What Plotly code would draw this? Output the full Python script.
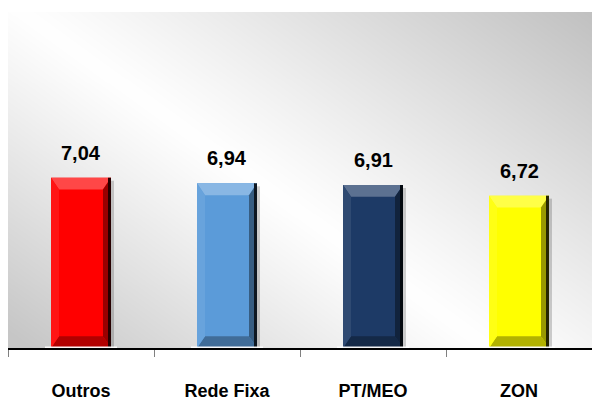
import base64, zlib, struct
import numpy as np
import plotly.graph_objects as go

categories = ["Outros", "Rede Fixa", "PT/MEO", "ZON"]
values = [7.04, 6.94, 6.91, 6.72]
colors = ["#ff0000", "#5b9bd9", "#1d3a66", "#ffff00"]
y_range = [4, 10]

W, H = 592, 401
ML, MR, MT, MB = 8, 0, 12, 48
PW, PH = W - ML - MR, H - MT - MB
FONT = "Liberation Sans, Arial, sans-serif"

# ---- background gradient image (decoration) ----
xs = np.arange(PW)[None, :].astype(float)
ys = np.arange(PH)[:, None].astype(float)
d = (xs - 40) * 0.588 + (ys - 20) * (-0.808)
g = np.where(d > 0, 255 - 63 * np.clip(d / 340, 0, 1) ** 1.1, 255 - 57 * np.clip(-d / 272, 0, 1) ** 1.1)
g = np.clip(g, 0, 255).astype(np.uint8)

def png_gray(arr):
    h, w = arr.shape
    raw = b"".join(b"\x00" + arr[i].tobytes() for i in range(h))
    def chunk(t, data):
        c = struct.pack(">I", len(data)) + t + data
        return c + struct.pack(">I", zlib.crc32(t + data) & 0xffffffff)
    return (b"\x89PNG\r\n\x1a\n" + chunk(b"IHDR", struct.pack(">IIBBBBB", w, h, 8, 0, 0, 0, 0))
            + chunk(b"IDAT", zlib.compress(raw, 9)) + chunk(b"IEND", b""))

bg_src = "data:image/png;base64," + base64.b64encode(png_gray(g)).decode()

def mix(c, t, f):
    c = c.lstrip("#"); t = t.lstrip("#")
    a = [int(c[i:i+2], 16) for i in (0, 2, 4)]
    b = [int(t[i:i+2], 16) for i in (0, 2, 4)]
    r = [round(a[i] + (b[i] - a[i]) * f) for i in range(3)]
    return "rgb(%d,%d,%d)" % tuple(r)

cat_px = PW / len(categories)
bar_w = 60 / cat_px
fig = go.Figure()
fig.add_trace(go.Bar(
    x=categories, y=values, width=bar_w,
    marker=dict(color=colors, line=dict(width=0)),
    hoverinfo="skip",
))

shapes = []
annotations = []
bx = 8 / cat_px
yunit = (y_range[1] - y_range[0]) / PH
byt = 12 * yunit
base = y_range[0]
for i, (v, c) in enumerate(zip(values, colors)):
    x0, x1 = i - bar_w / 2, i + bar_w / 2
    # soft shadow
    shapes.append(dict(type="rect", xref="x", yref="y", x0=x1 - 1 / cat_px, x1=x1 + 3 / cat_px,
                       y0=base, y1=v - 3 * yunit, fillcolor="rgba(0,0,0,0.18)", line_width=0, layer="below"))
    # top bevel
    shapes.append(dict(type="path", xref="x", yref="y", layer="above", line_width=0,
                       fillcolor=mix(c, "#ffffff", 0.28),
                       path=f"M{x0},{v} L{x1},{v} L{x1-bx},{v-byt} L{x0+bx},{v-byt} Z"))
    # bottom bevel
    shapes.append(dict(type="path", xref="x", yref="y", layer="above", line_width=0,
                       fillcolor=mix(c, "#000000", 0.3),
                       path=f"M{x0},{base} L{x1},{base} L{x1-bx},{base+byt} L{x0+bx},{base+byt} Z"))
    # left bevel
    shapes.append(dict(type="path", xref="x", yref="y", layer="above", line_width=0,
                       fillcolor=mix(c, "#ffffff", 0.08),
                       path=f"M{x0},{base} L{x0},{v} L{x0+bx},{v-byt} L{x0+bx},{base+byt} Z"))
    # right bevel
    shapes.append(dict(type="path", xref="x", yref="y", layer="above", line_width=0,
                       fillcolor=mix(c, "#000000", 0.4),
                       path=f"M{x1},{base} L{x1},{v} L{x1-bx},{v-byt} L{x1-bx},{base+byt} Z"))
    shapes.append(dict(type="line", xref="x", yref="y", layer="above",
                       x0=x1 - 1.5 / cat_px, x1=x1 - 1.5 / cat_px, y0=base, y1=v,
                       line=dict(color=mix(c, "#000000", 0.85), width=3)))
    # white glare under bar
    shapes.append(dict(type="line", xref="x", yref="y", layer="above",
                       x0=x0 - 6 / cat_px, x1=x1 + 6 / cat_px, y0=base + 0.8 * yunit, y1=base + 0.8 * yunit,
                       line=dict(color="rgba(255,255,255,0.95)", width=1.5)))
    annotations.append(dict(x=categories[i], y=v, xref="x", yref="y",
                            text=("%.2f" % v).replace(".", ","), showarrow=False,
                            yshift=25, font=dict(family=FONT, size=20, weight="bold", color="#000000")))

fig.update_layout(
    width=W, height=H,
    margin=dict(l=ML, r=MR, t=MT, b=MB, pad=0),
    paper_bgcolor="#ffffff", plot_bgcolor="rgba(0,0,0,0)",
    showlegend=False,
    shapes=shapes, annotations=annotations,
    images=[dict(source=bg_src, xref="paper", yref="paper", x=0, y=1, sizex=1, sizey=1,
                 sizing="stretch", xanchor="left", yanchor="top", layer="below")],
    xaxis=dict(type="category", range=[-0.5, 3.5], showgrid=False, zeroline=False,
               showline=True, linecolor="#000000", linewidth=1.5,
               ticks="outside", tickson="boundaries", ticklen=7, tickcolor="#808080", tickwidth=1,
               ticklabelstandoff=26,
               tickfont=dict(family=FONT, size=18, weight="bold", color="#000000")),
    yaxis=dict(range=y_range, showgrid=False, zeroline=False, showticklabels=False, showline=False, ticks=""),
)
fig.write_html("out.html")
